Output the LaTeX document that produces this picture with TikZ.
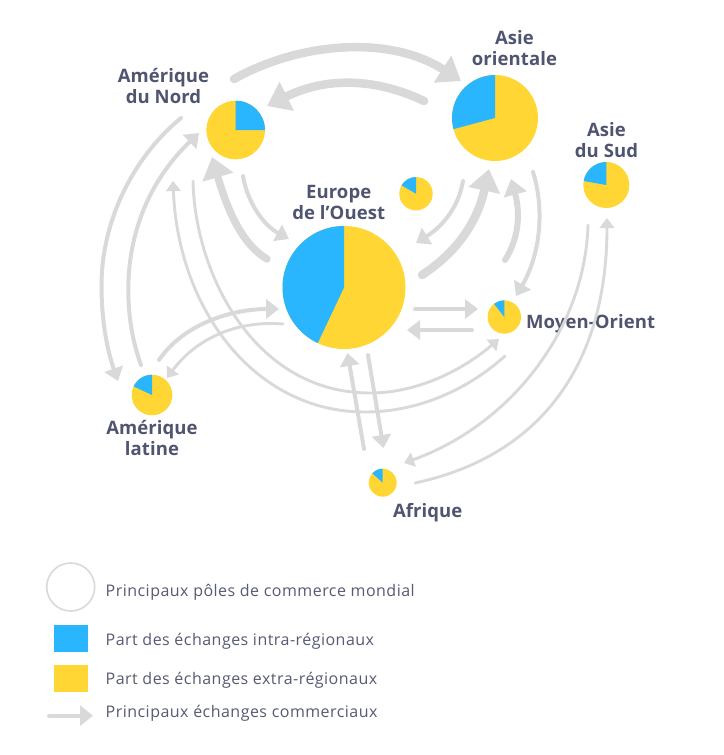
\documentclass[tikz,border=0pt]{standalone}
\usepackage{fontspec}
\setmainfont{Open Sans}
\newfontfamily\labelfont[LetterSpace=0.5,BoldFont={Open Sans Bold}]{Open Sans}
\newfontfamily\legendfont[LetterSpace=3.0]{Open Sans}
\usetikzlibrary{arrows.meta}
\definecolor{flowgrey}{HTML}{D9D9D9}
\definecolor{pieblue}{HTML}{29B6FF}
\definecolor{pieyellow}{HTML}{FFD633}
\definecolor{labelink}{HTML}{4F5470}
\definecolor{legendink}{HTML}{565A72}
\tikzset{
  flow/.style={draw=flowgrey,line cap=round,fill=none},
  flowxl/.style={flow,line width=8.5pt,-{Triangle[length=22pt,width=31pt]}},
  flowl/.style={flow,line width=7.5pt,-{Triangle[length=21pt,width=31pt]}},
  flowm/.style={flow,line width=6pt,-{Triangle[length=16pt,width=23pt]}},
  flows/.style={flow,line width=4pt,-{Triangle[length=13pt,width=19pt]}},
  flowxs/.style={flow,line width=2.9pt,-{Triangle[length=10pt,width=14.5pt]}},
  region/.style={font=\labelfont\bfseries\fontsize{18.5}{21}\selectfont,text=labelink,align=center,inner sep=0pt},
  legendtext/.style={font=\legendfont\fontsize{16}{18}\selectfont,text=legendink,anchor=base west,inner sep=0pt},
  swatch/.style={minimum width=34pt,minimum height=27pt,inner sep=0pt},
  piebase/.style={circle,fill=pieyellow,inner sep=0pt,outer sep=0pt},
}
\newcommand{\piechart}[5]{%
  \node[piebase,minimum size=#4*2pt] (#1) at (#2) {};
  \fill[pieblue] (#1.center) -- ++(-90:#4) arc[start angle=-90,end angle=-#5,radius=#4] -- cycle;
}
\begin{document}
\begin{tikzpicture}[x=1pt,y=-1pt]
\useasboundingbox (0,0) rectangle (723,755);

% pies
\piechart{na}{235.7,130}{29.3}{29.3}{0}
\piechart{eo}{495,118}{43}{43}{195}
\piechart{as}{606.3,185}{23}{23}{170}
\piechart{eus}{416,193.7}{16.7}{16.7}{150}
\piechart{eu}{344,287.5}{61.5}{61.5}{244.7}
\piechart{mo}{504.3,317}{16.7}{16.7}{128}
\piechart{al}{152,395}{20.3}{20.3}{155}
\piechart{af}{382.7,482.7}{14}{14}{138}

% labels
\node[region] (lna) at (163.5,86) {Amérique\\du Nord};
\node[region] (leo) at (514.5,48) {Asie\\orientale};
\node[region] (las) at (606.5,140) {Asie\\du Sud};
\node[region] (leu) at (338.7,202.5) {Europe\\de l’Ouest};
\node[region,anchor=base west] (lmo) at (526,328) {Moyen-Orient};
\node[region] (lal) at (152,438) {Amérique\\latine};
\node[region,anchor=base] (laf) at (427.7,517) {Afrique};

% connector end points
\coordinate (naeoS) at (234,79);
\coordinate (naeoE) at (461,81);
\coordinate (eonaS) at (424,101);
\coordinate (eonaE) at (267,106);
\coordinate (eunaS) at (267,259);
\coordinate (eunaE) at (212,157);
\coordinate (naeuS) at (243,176);
\coordinate (naeuE) at (289,239);
\coordinate (naalS) at (181,118);
\coordinate (naalM) at (101.5,285);
\coordinate (naalE) at (118,381);
\coordinate (alnaS) at (141,365);
\coordinate (alnaM) at (128.3,290);
\coordinate (alnaE) at (199,133);
\coordinate (aleuS) at (159,360);
\coordinate (aleuE) at (279,309);
\coordinate (eualS) at (283,324);
\coordinate (eualE) at (167,378);
\coordinate (namoS) at (193,181);
\coordinate (namoM) at (370,393);
\coordinate (namoE) at (499,339);
\coordinate (monaS) at (505,356);
\coordinate (monaM) at (365,412);
\coordinate (monaE) at (173,181);
\coordinate (afasS) at (415,483);
\coordinate (afasE) at (607,218);
\coordinate (asafS) at (588,225);
\coordinate (asafE) at (404,463);
\coordinate (eoeuS) at (463,181);
\coordinate (eoeuE) at (416,243);
\coordinate (eueoS) at (422,275);
\coordinate (eueoE) at (489,169);
\coordinate (moeoS) at (505,260);
\coordinate (moeoE) at (511,179);
\coordinate (eomoS) at (533,172);
\coordinate (eomoE) at (516,296);
\coordinate (eumoS) at (415,309);
\coordinate (eumoE) at (478,309);
\coordinate (moeuS) at (472,330);
\coordinate (moeuE) at (407,330);
\coordinate (afeuS) at (364,449);
\coordinate (afeuE) at (347.5,353);
\coordinate (euafS) at (368,355);
\coordinate (euafE) at (383.5,448);

% connectors
\draw[flowxl] (naeoS) .. controls (300,42) and (390,35) .. (naeoE);
\draw[flowxl] (eonaS) .. controls (380,80) and (330,75) .. (eonaE);
\draw[flowl] (eunaS) .. controls (240,243) and (226,205) .. (eunaE);
\draw[flows,-{Triangle[length=13pt,width=18pt]}] (naeuS) .. controls (248,205) and (265,226) .. (naeuE);
\draw[flows] (naalS) .. controls (130,160) and (101.5,225) .. (naalM) .. controls (101.5,320) and (107,350) .. (naalE);
\draw[flows] (alnaS) .. controls (132,340) and (128.3,315) .. (alnaM) .. controls (128.3,225) and (155,175) .. (alnaE);
\draw[flows] (aleuS) .. controls (185,322) and (235,309) .. (aleuE);
\draw[flowxs] (eualS) .. controls (235,320) and (195,340) .. (eualE);
\draw[flowxs] (namoS) .. controls (195,275) and (255,393) .. (namoM) .. controls (420,393) and (465,368) .. (namoE);
\draw[flowxs] (monaS) .. controls (465,392) and (415,412) .. (monaM) .. controls (255,412) and (178,310) .. (monaE);
\draw[flowxs] (afasS) .. controls (545,455) and (607,360) .. (afasE);
\draw[flowxs] (asafS) .. controls (585,330) and (510,425) .. (asafE);
\draw[flows] (eoeuS) .. controls (458,210) and (440,228) .. (eoeuE);
\draw[flowxl] (eueoS) .. controls (460,250) and (478,219) .. (eueoE);
\draw[flowm] (moeoS) .. controls (518,240) and (521,215) .. (moeoE);
\draw[flows] (eomoS) .. controls (545,210) and (540,255) .. (eomoE);
\draw[flows] (eumoS) -- (eumoE);
\draw[flows] (moeuS) -- (moeuE);
\draw[flows] (afeuS) -- (afeuE);
\draw[flows] (euafS) -- (euafE);

% legend
\node[circle,draw=flowgrey,line width=1.6pt,minimum size=48pt,inner sep=0pt] (lgcircle) at (70.7,587) {};
\node[swatch,fill=pieblue] (lgblue) at (70.8,638.3) {};
\node[swatch,fill=pieyellow] (lgyellow) at (70.8,678.6) {};
\coordinate (lgarrowS) at (49,715.7);
\coordinate (lgarrowE) at (93,715.7);
\draw[flow,line width=4pt,-{Triangle[length=13pt,width=20pt]}] (lgarrowS) -- (lgarrowE);
\node[legendtext] (lt1) at (105.5,596) {Principaux pôles de commerce mondial};
\node[legendtext] (lt2) at (105.5,645) {Part des échanges intra-régionaux};
\node[legendtext] (lt3) at (105.5,684.5) {Part des échanges extra-régionaux};
\node[legendtext] (lt4) at (105.5,717.7) {Principaux échanges commerciaux};
\end{tikzpicture}
\end{document}
